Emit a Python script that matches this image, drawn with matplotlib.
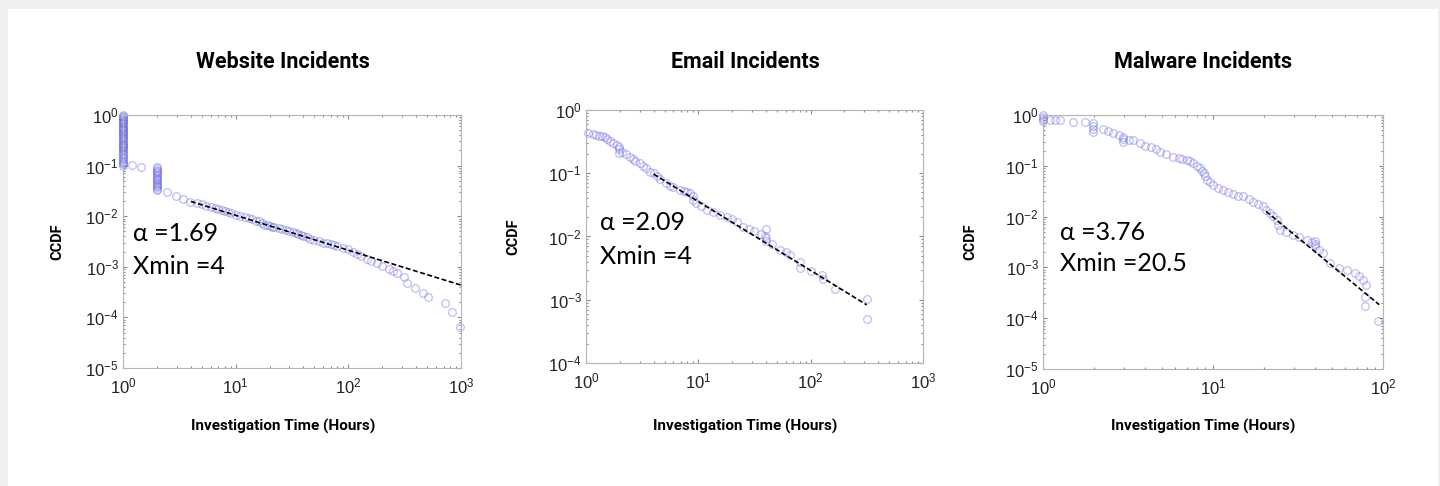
import matplotlib.pyplot as plt
from matplotlib.patches import Rectangle
from matplotlib.ticker import LogLocator, NullFormatter, FuncFormatter
import numpy as np

# ---- data ----
titles = ["Website Incidents", "Email Incidents", "Malware Incidents"]
alphas = ["1.69", "2.09", "3.76"]
xmins_txt = ["4", "4", "20.5"]

# Website incidents CCDF (many tied values at 1 h and 2 h)
web_tie1 = [1.0, 0.96, 0.92, 0.88, 0.84, 0.8, 0.77, 0.74, 0.71, 0.68, 0.65,
            0.62, 0.59, 0.56, 0.54, 0.52, 0.5, 0.48, 0.46, 0.44, 0.42, 0.4,
            0.38, 0.36, 0.345, 0.33, 0.315, 0.3, 0.285, 0.27, 0.26, 0.25,
            0.24, 0.23, 0.22, 0.21, 0.2, 0.19, 0.18, 0.17, 0.16, 0.15, 0.14,
            0.133, 0.126, 0.119, 0.112, 0.106, 0.1]
web_tie2 = [0.093, 0.088, 0.083, 0.078, 0.074, 0.07, 0.066, 0.062, 0.058,
            0.055, 0.052, 0.049, 0.046, 0.043, 0.041, 0.039, 0.037, 0.035,
            0.033]
web_x = [1.0] * len(web_tie1) + [1.19, 1.44] + [2.0] * len(web_tie2) + [
    2.44, 2.95, 3.43, 3.93, 4.5, 5.0, 5.5, 6.0, 6.5, 7.0, 7.5, 8.0, 8.5, 9.0,
    10, 11, 12, 13, 14, 15, 16, 17, 18, 19, 20, 21, 22, 24, 26, 28, 30, 32,
    34, 36, 38, 40, 43, 46, 50, 55, 60, 65, 70, 75, 80, 90, 100, 110, 120,
    130, 145, 160, 180, 200, 230, 250, 270, 309, 330, 390, 460, 510, 720,
    830, 980]
web_y = web_tie1 + [0.103, 0.093] + web_tie2 + [
         0.030, 0.025, 0.022, 0.0195, 0.0183, 0.0172, 0.016, 0.0152, 0.0145,
         0.0138, 0.013, 0.0125, 0.012, 0.0114,
         0.0108, 0.0101, 0.0095, 0.0091, 0.0087, 0.0082, 0.0079, 0.0075,
         0.0068, 0.0066, 0.0064, 0.0062, 0.0061, 0.0058, 0.0056, 0.0053,
         0.0051, 0.0049, 0.0047, 0.0045, 0.0042, 0.0040, 0.0038, 0.0036,
         0.0034, 0.0032, 0.0030, 0.0029, 0.0028, 0.0027, 0.0026, 0.0024,
         0.0022, 0.0020, 0.0018, 0.00165, 0.0014, 0.0013, 0.00118, 0.00105,
         0.00092, 0.00082, 0.00076, 0.00064, 0.00048, 0.00038, 0.00030,
         0.00025, 0.00019, 0.00013, 0.000065]

# Email incidents CCDF
email_x = [1.05, 1.15, 1.24, 1.3, 1.38, 1.47, 1.55, 1.65, 1.75, 1.88, 1.95,
           1.95, 1.95, 2.1, 2.25, 2.47, 2.6, 2.75, 3.0, 3.2, 3.4, 3.7, 4.0,
           4.26, 4.6, 5.2, 5.6, 6.0, 6.9, 7.5, 8.0, 8.5, 9.0, 9.0, 9.5, 10.5,
           11.9, 13.5, 15.5, 17.9, 20, 22, 25, 28, 31, 36, 39, 40, 40, 40, 45,
           53, 60, 66, 80, 80, 100, 126, 128, 165, 316, 318]
email_y = [0.43, 0.42, 0.40, 0.39, 0.385, 0.38, 0.35, 0.32, 0.30, 0.28, 0.26,
           0.24, 0.21, 0.22, 0.20, 0.18, 0.165, 0.155, 0.145, 0.13, 0.12,
           0.106, 0.1, 0.089, 0.08, 0.069, 0.064, 0.06, 0.054, 0.052, 0.05,
           0.048, 0.043, 0.038, 0.034, 0.03, 0.026, 0.024, 0.022, 0.020,
           0.019, 0.017, 0.0143, 0.013, 0.012, 0.011, 0.010, 0.013, 0.0095,
           0.0085, 0.0075, 0.0061, 0.0056, 0.0051, 0.0040, 0.0032, 0.0028,
           0.0025, 0.0021, 0.0015, 0.00102, 0.00049]

# Malware incidents CCDF
mal_x = [1.0, 1.0, 1.0, 1.0, 1.1, 1.18, 1.26, 1.5, 1.77, 1.98, 1.98, 1.98,
         1.98, 2.26, 2.4, 2.59, 2.8, 2.97, 2.97, 2.97, 3.2, 3.4, 3.7, 3.98,
         4.3, 4.6, 4.9, 5.3, 5.85, 6.3, 6.6, 7.0, 7.3, 7.66, 8.0, 8.4, 8.6,
         8.8, 9.0, 9.2, 9.6, 10.0, 10.7, 11.5, 12.3, 13.2, 14.1, 15.1, 16.2,
         17.3, 18.5, 19.8, 20.5, 21.6, 22.6, 23.7, 24.2, 24.8, 27, 29.6, 32,
         35.5, 38, 39.8, 39.8, 39.8, 42, 44.6, 48.9, 55, 61, 68, 72, 76.6,
         79.6, 78, 78, 94]
mal_y = [1.0, 0.93, 0.85, 0.76, 0.8, 0.8, 0.8, 0.74, 0.72, 0.69, 0.62, 0.54,
         0.47, 0.52, 0.49, 0.45, 0.41, 0.37, 0.33, 0.30, 0.32, 0.32, 0.28,
         0.245, 0.23, 0.21, 0.19, 0.17, 0.15, 0.14, 0.135, 0.13, 0.125,
         0.112, 0.1, 0.089, 0.08, 0.071, 0.062, 0.053, 0.047, 0.042, 0.037,
         0.033, 0.030, 0.028, 0.026, 0.025, 0.022, 0.0196, 0.018, 0.016,
         0.0135, 0.0116, 0.0105, 0.0086, 0.0068, 0.0055, 0.005, 0.0044,
         0.0039, 0.0035, 0.0031, 0.0033, 0.0029, 0.0026, 0.0022, 0.0019,
         0.0012, 0.00098, 0.00089, 0.00078, 0.00068, 0.00056, 0.00045,
         0.00026, 0.00017, 0.00009]

# fitted power laws: (xmin, ccdf at xmin, slope, x end)
fits = [(4.0, 0.0196, -0.69, 1000), (4.0, 0.097, -1.09, 316),
        (20.5, 0.0127, -2.76, 95)]

xs = [web_x, email_x, mal_x]
ys = [web_y, email_y, mal_y]
xlims = [(1, 1e3), (1, 1e3), (1, 1e2)]
ylims = [(1e-5, 1), (1e-4, 1), (1e-5, 1)]

# axes boxes in pixels: left, top, right, bottom
boxes = [(123, 115, 461, 368), (586, 110, 923, 363), (1043, 115, 1383, 369)]
title_x = [283, 745, 1203]
ylab_x = [57, 513, 970]
txt_pos = [(133, 233, 267), (600, 223, 257), (1060, 232, 263)]

W, H = 1440, 486
fig = plt.figure(figsize=(W / 100, H / 100), dpi=100)
fig.patch.set_facecolor("#efefef")
fig.patches.append(Rectangle((8 / W, 0), 1430 / W, (H - 9) / H,
                             transform=fig.transFigure, facecolor="white",
                             edgecolor="none", zorder=-5))


def sup(v, pos):
    e = int(round(np.log10(v)))
    return r"$\mathregular{10^{%d}}$" % e


for i in range(3):
    l, t, r, b = boxes[i]
    ax = fig.add_axes([l / W, 1 - b / H, (r - l) / W, (b - t) / H])
    ax.set_xscale("log")
    ax.set_yscale("log")
    ax.plot(xs[i], ys[i], "o", ms=5.5, mfc="none", mec="#6f6fe8",
            mew=0.9, alpha=0.45, clip_on=False, zorder=2)
    xm, c, s, xe = fits[i]
    fx = np.array([xm, xe])
    ax.plot(fx, c * (fx / xm) ** s, color="black", ls=(0, (3, 1.5)), lw=1.2,
            zorder=3)
    ax.set_xlim(*xlims[i])
    ax.set_ylim(*ylims[i])
    for sp in ax.spines.values():
        sp.set_color("#b5b5b5")
        sp.set_linewidth(0.8)
    ax.xaxis.set_major_locator(LogLocator(base=10, numticks=10))
    ax.yaxis.set_major_locator(LogLocator(base=10, numticks=10))
    ax.xaxis.set_minor_locator(LogLocator(base=10, subs=np.arange(2, 10), numticks=10))
    ax.yaxis.set_minor_locator(LogLocator(base=10, subs=np.arange(2, 10), numticks=10))
    ax.xaxis.set_minor_formatter(NullFormatter())
    ax.yaxis.set_minor_formatter(NullFormatter())
    ax.xaxis.set_major_formatter(FuncFormatter(sup))
    ax.yaxis.set_major_formatter(FuncFormatter(sup))
    ax.tick_params(which="both", direction="in", top=True, right=True,
                   color="#888888", width=0.8)
    ax.tick_params(which="major", length=3, labelsize=12,
                   labelcolor="#222222")
    ax.tick_params(axis="x", which="major", pad=6)
    ax.tick_params(axis="y", which="major", pad=3)
    ax.tick_params(which="minor", length=1.5)
    for lab in ax.get_xticklabels() + ax.get_yticklabels():
        lab.set_family("Liberation Sans")

    fig.text(title_x[i] / W, 1 - 62 / H, titles[i], ha="center", va="center",
             family="Roboto", fontsize=15.5, fontweight="bold")
    fig.text(title_x[i] / W, 1 - 426 / H, "Investigation Time (Hours)",
             ha="center", va="center", family="Roboto", fontsize=11,
             fontweight="bold")
    fig.text(ylab_x[i] / W, 1 - ((t + b) / 2) / H, "CCDF", ha="center",
             va="center", rotation=90, family="Roboto", fontsize=10.5,
             fontweight="bold")
    tx, ty1, ty2 = txt_pos[i]
    fig.text(tx / W, 1 - ty1 / H, "\u03b1 =" + alphas[i], ha="left",
             va="center", family="Lato", fontsize=18)
    fig.text(tx / W, 1 - ty2 / H, "Xmin =" + xmins_txt[i], ha="left",
             va="center", family="Lato", fontsize=18)

fig.savefig("out.png", dpi=100, facecolor=fig.get_facecolor())
